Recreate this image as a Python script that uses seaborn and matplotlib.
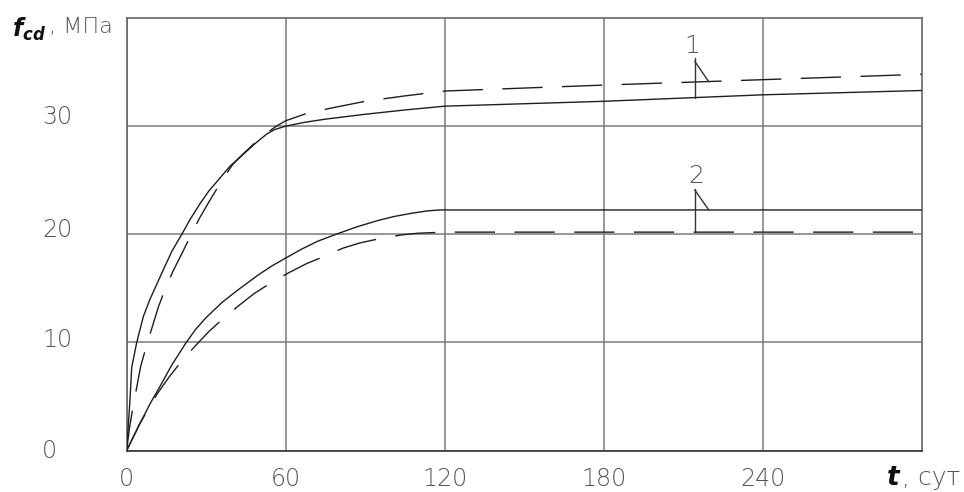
import seaborn as sns
import matplotlib.pyplot as plt
import matplotlib.transforms as mtransforms
import pandas as pd

# curve 1, solid
t1_solid = [0, 1.2, 1.9, 3.8, 6.3, 8.8, 13.8, 17, 20.8, 24, 27.6, 31, 34.5, 39, 44, 48.5, 53, 56,
            60, 67, 75, 90, 105, 120, 180, 240, 300]
f1_solid = [0, 4.5, 7.7, 10, 12.4, 14, 16.7, 18.4, 20, 21.4, 22.8, 24.0, 25, 26.3, 27.4, 28.4, 29.3, 29.7,
            30, 30.35, 30.65, 31.1, 31.5, 31.85, 32.3, 32.9, 33.3]

# curve 1, dashed
t1_dash = [0, 1, 2.3, 5.3, 7.6, 12, 14.5, 17.5, 20.8, 24, 27.5, 31.3, 36, 40, 43.8, 49, 53, 56.5,
           60, 67, 75.7, 90, 105, 120, 180, 240, 300]
f1_dash = [0, 2.0, 3.9, 7.8, 9.8, 13.3, 14.9, 16.6, 18.2, 19.8, 21.5, 23.1, 25, 26.45, 27.4, 28.6, 29.4, 30.0,
           30.5, 31.1, 31.6, 32.3, 32.8, 33.25, 33.8, 34.3, 34.8]

# curve 2, solid
t2_solid = [0, 5, 9, 12.5, 17, 22.5, 26, 30, 36, 41.7, 50, 55, 60, 65.8, 72, 79, 87, 95.2, 101,
            107.7, 113, 118, 300]
f2_solid = [0, 2.5, 4.4, 5.9, 7.9, 10, 11.2, 12.3, 13.7, 14.8, 16.3, 17.1, 17.8, 18.6, 19.35, 20, 20.7, 21.3, 21.65,
            21.95, 22.15, 22.25, 22.25]

# curve 2, dashed
t2_dash = [0, 5, 11.4, 16, 20.2, 25.6, 31, 36.4, 42.3, 48, 55, 61.6, 68, 75, 81.4, 88, 96.5, 104, 110,
           120, 180, 240, 300]
f2_dash = [0, 2.5, 5.2, 6.8, 8.1, 9.6, 11.0, 12.2, 13.4, 14.5, 15.6, 16.5, 17.3, 18, 18.7, 19.2, 19.65, 19.95, 20.1,
           20.2, 20.2, 20.2, 20.2]

x_ticks = [0, 60, 120, 180, 240]
y_ticks = [0, 10, 20, 30]

sns.set_theme(style="white")
plt.rcParams['font.family'] = ['DejaVu Sans']
plt.rcParams['mathtext.fontset'] = 'custom'
plt.rcParams['mathtext.bf'] = 'DejaVu Sans:bold:italic'
plt.rcParams['mathtext.rm'] = 'DejaVu Sans'

txt_color = '#555555'
grid_color = '#7a7a7a'

fig = plt.figure(figsize=(9.64, 4.92), dpi=100)
ax = fig.add_axes([0.1314, 0.0843, 0.8246, 0.879])

dash_style = (0, (29, 14))
curves = [
    (t1_solid, f1_solid, '-'),
    (t1_dash, f1_dash, dash_style),
    (t2_solid, f2_solid, '-'),
    (t2_dash, f2_dash, dash_style),
]
for t, f, ls in curves:
    df = pd.DataFrame({'t': t, 'f': f})
    sns.lineplot(data=df, x='t', y='f', ax=ax, color='#1e1e1e', lw=1.0,
                 linestyle=ls, estimator=None, zorder=3)

ax.set_xlim(0, 300)
ax.set_ylim(0, 40)
ax.set_xticks(x_ticks)
ax.set_yticks(y_ticks)
ax.set_xlabel('')
ax.set_ylabel('')
ax.grid(True, color=grid_color, lw=1.1)
for s in ax.spines.values():
    s.set_color('#666666')
    s.set_linewidth(1.2)
ax.spines['bottom'].set_color('#333333')

ax.tick_params(axis='both', length=0, labelcolor=txt_color)
ax.tick_params(axis='x', pad=12, labelsize=17)
ax.tick_params(axis='y', pad=61, labelsize=17)
for lab in ax.get_xticklabels():
    lab.set_fontweight('light')
ylab_shift = [2, 5, 7, 12]
for lab, dy in zip(ax.get_yticklabels(), ylab_shift):
    lab.set_horizontalalignment('left')
    lab.set_fontweight('light')
    lab.set_transform(lab.get_transform() + mtransforms.ScaledTranslation(0, dy / 100, fig.dpi_scale_trans))

# curve labels with leader lines
lead = dict(color='#333333', lw=1.0, zorder=4)
ax.text(213.6, 37.4, '1', ha='center', va='center', fontsize=18, color=txt_color, fontweight='light')
ax.plot([214.4, 214.4], [36.3, 32.6], **lead)
ax.plot([214.4, 219.7], [36.0, 34.1], **lead)
ax.text(214.8, 25.4, '2', ha='center', va='center', fontsize=18, color=txt_color, fontweight='light')
ax.plot([214.4, 214.4], [24.2, 20.2], **lead)
ax.plot([214.4, 219.7], [24.1, 22.25], **lead)

# axis captions: bold italic symbol in black, unit in grey
fig.text(12 / 964, 1 - 29 / 492, r'$\mathbf{f_{cd}}$', ha='left', va='center',
         fontsize=17, color='#111111')
fig.text(49 / 964, 1 - 27 / 492, ', МПа', ha='left', va='center',
         fontsize=16, color=txt_color, fontweight='light')
fig.text(886 / 964, 1 - 478 / 492, r'$\mathbf{t}$', ha='left', va='center',
         fontsize=19, color='#111111')
fig.text(902 / 964, 1 - 478 / 492, ', сут', ha='left', va='center',
         fontsize=18, color=txt_color, fontweight='light')

fig.savefig('out.png', dpi=100)
